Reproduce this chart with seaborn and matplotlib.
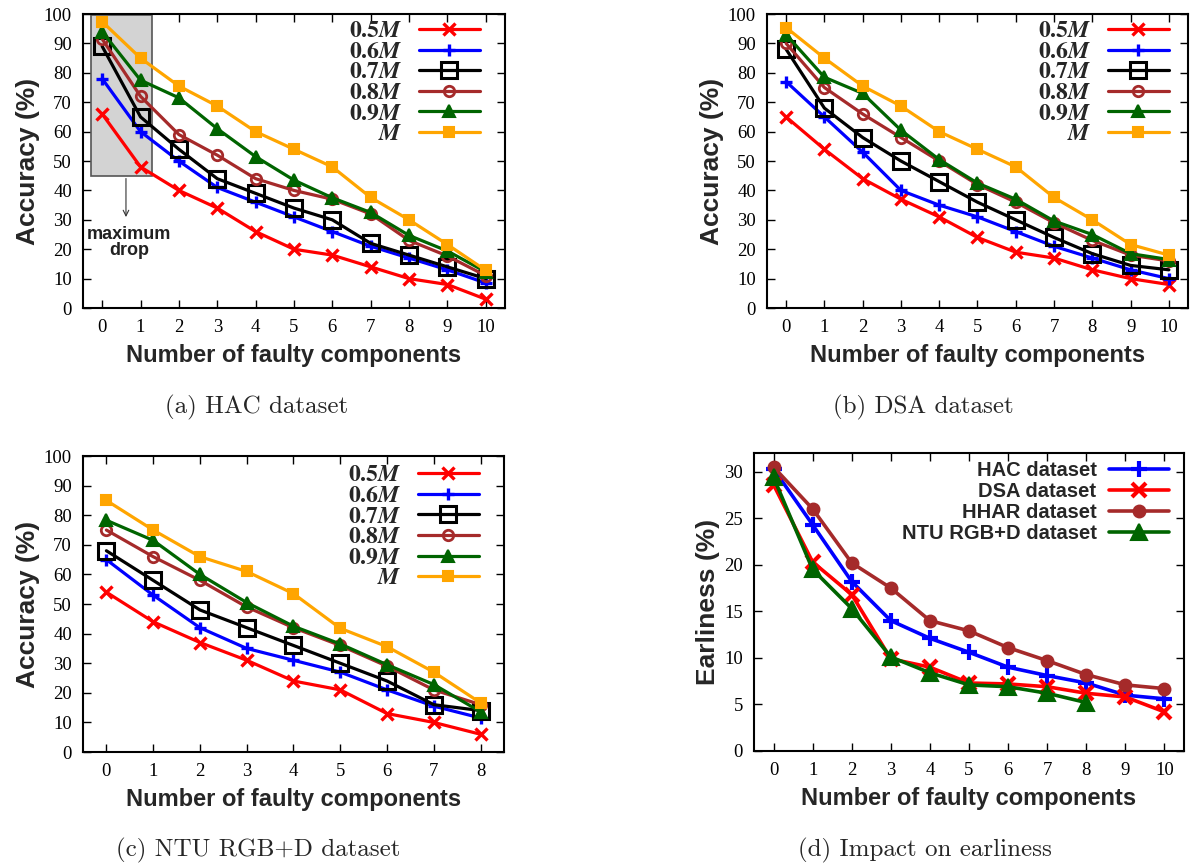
import numpy as np
import pandas as pd
import matplotlib
matplotlib.use("Agg")
import matplotlib.pyplot as plt
from matplotlib.patches import Rectangle
import seaborn as sns

# ---- data ----
faults10 = list(range(11))
faults8 = list(range(9))

# (a) HAC dataset accuracy
hac_05 = [66, 48, 40, 34, 26, 20, 18, 14, 10, 8, 3]
hac_06 = [78, 60, 50, 41, 36, 31, 26, 21, 17, 13, 8.5]
hac_07 = [89, 65, 54, 44, 39, 34, 30, 22, 18, 14, 10]
hac_08 = [91.5, 72, 59, 52, 44, 40, 37, 32, 23, 17.7, 11]
hac_09 = [94, 77.5, 71.5, 61, 51.5, 43.5, 37.5, 32.5, 24.7, 19.4, 12.3]
hac_M = [97.4, 85, 75.5, 68.7, 60, 54, 48, 37.6, 30, 21.6, 12.8]

# (b) DSA dataset accuracy
dsa_05 = [65, 54, 44, 37, 31, 24, 19, 17, 13, 10, 8]
dsa_06 = [77, 65, 53, 40, 35, 31, 26, 21, 17, 13, 10]
dsa_07 = [88, 68, 58, 50, 43, 36, 30, 24, 18.5, 14.5, 13]
dsa_08 = [90, 75, 66, 58, 50, 42, 36, 29, 23, 18, 16]
dsa_09 = [93, 78.5, 73, 60.5, 50.5, 42.5, 37, 29.6, 25, 18.5, 16.5]
dsa_M = [95.4, 85, 75.5, 68.7, 60, 54, 48, 37.6, 30, 21.6, 18]

# (c) NTU RGB+D dataset accuracy
ntu_05 = [54, 44, 37, 31, 24, 21, 13, 10, 6]
ntu_06 = [65, 53, 42, 35, 31, 27, 21, 15.5, 11.5]
ntu_07 = [68, 58, 48, 42, 36, 30, 24, 16, 14]
ntu_08 = [75, 66, 58, 49, 42, 36, 29, 21, 16]
ntu_09 = [78.3, 71.5, 60, 50.5, 42.5, 36.5, 29.5, 22.8, 13.6]
ntu_M = [85, 75, 66, 61, 53.5, 41.8, 35.6, 27, 16.6]

# (d) earliness
earl_hac = [30.3, 24.3, 18.2, 14, 12.1, 10.6, 9.0, 8.1, 7.3, 6.0, 5.6]
earl_dsa = [28.6, 20.3, 16.8, 9.9, 9.0, 7.3, 7.2, 6.9, 6.2, 5.8, 4.2]
earl_hhar = [30.5, 26, 20.2, 17.5, 14, 12.9, 11.1, 9.7, 8.2, 7.1, 6.7]
earl_ntu = [29.4, 19.5, 15.3, 10.1, 8.4, 7.1, 6.9, 6.2, 5.2]

budget_labels = [r"$\mathbf{0.5}\mathbfit{M}$", r"$\mathbf{0.6}\mathbfit{M}$",
                 r"$\mathbf{0.7}\mathbfit{M}$", r"$\mathbf{0.8}\mathbfit{M}$",
                 r"$\mathbf{0.9}\mathbfit{M}$", r"$\mathbfit{M}$"]
dataset_labels = ["HAC dataset", "DSA dataset", "HHAR dataset", "NTU RGB+D dataset"]
captions = ["(a) HAC dataset", "(b) DSA dataset", "(c) NTU RGB+D dataset",
            "(d) Impact on earliness"]

sns.set_style("ticks")
plt.rcParams["font.family"] = ["Liberation Serif", "DejaVu Serif"]
plt.rcParams["mathtext.fontset"] = "stix"

# style per accuracy series: marker, colour, size, edge width, filled
acc_style = [
    ("x", "#ff0000", 8, 2.4, True),
    ("+", "#0000ff", 8, 2.4, True),
    ("s", "#000000", 11, 2.2, False),
    ("o", "#a52a2a", 7.5, 2.0, False),
    ("^", "#006400", 8.5, 1.5, True),
    ("s", "#ffa500", 7, 1.5, True),
]
earl_style = [
    ("+", "#0000ff", 12, 3.0, True),
    ("x", "#ff0000", 10, 3.0, True),
    ("o", "#a52a2a", 8.5, 1.5, True),
    ("^", "#006400", 11, 1.5, True),
]

fig = plt.figure(figsize=(11.96, 8.66), dpi=100)
ax_a = fig.add_axes([0.0694, 0.6443, 0.3528, 0.3395])
ax_b = fig.add_axes([0.6413, 0.6443, 0.3520, 0.3395])
ax_c = fig.add_axes([0.0694, 0.1316, 0.3520, 0.3418])
ax_d = fig.add_axes([0.6304, 0.1328, 0.3596, 0.3441])


def draw(ax, xs, series, labels, styles):
    for vals, lab, (m, c, ms, mew, filled) in zip(series, labels, styles):
        sns.lineplot(x=xs, y=vals, ax=ax, color=c, linewidth=2.3, marker=m,
                     markersize=ms, markeredgewidth=mew, markeredgecolor=c,
                     markerfacecolor=c if filled else "none", label=lab)


def frame(ax, xmax, ymax, ystep, ylabel):
    ax.set_xlim(-0.5, xmax + 0.5)
    ax.set_ylim(0, ymax)
    ax.set_xticks(range(0, xmax + 1))
    ax.set_yticks(np.arange(0, ymax + 0.1, ystep))
    ax.tick_params(direction="in", length=6, width=1.0, top=True, right=True,
                   labelsize=13.5, pad=8, colors="black")
    for s in ax.spines.values():
        s.set_linewidth(1.5)
        s.set_color("black")
    ax.set_xlabel("Number of faulty components", fontsize=17, fontweight="bold",
                  family="Liberation Sans", labelpad=6)
    ax.set_ylabel(ylabel, fontsize=19, fontweight="bold", family="Liberation Sans",
                  labelpad=3)


acc_panels = [
    (ax_a, faults10, [hac_05, hac_06, hac_07, hac_08, hac_09, hac_M], 0.941, 0.977),
    (ax_b, faults10, [dsa_05, dsa_06, dsa_07, dsa_08, dsa_09, dsa_M], 0.955, 0.977),
    (ax_c, faults8, [ntu_05, ntu_06, ntu_07, ntu_08, ntu_09, ntu_M], 0.941, 0.97),
]
for ax, xs, series, lx, ly in acc_panels:
    draw(ax, xs, series, budget_labels, acc_style)
    frame(ax, xs[-1], 100, 10, "Accuracy (%)")
    ax.legend(loc="upper right", bbox_to_anchor=(lx, ly), frameon=False,
              markerfirst=False, fontsize=17, handlelength=2.6,
              handletextpad=0.7, labelspacing=-0.04, borderpad=0, borderaxespad=0)

# gray "maximum drop" box on HAC panel
ax_a.add_patch(Rectangle((-0.3, 45), 1.6, 54.5, facecolor="#d3d3d3",
                         edgecolor="#555555", linewidth=1.2, zorder=1))
ax_a.annotate("", xy=(0.62, 30), xytext=(0.62, 45),
              arrowprops=dict(arrowstyle="->", lw=0.8, color="#333333"))
ax_a.text(0.71, 22.4, "maximum\ndrop", ha="center", va="center", fontsize=13,
          fontweight="bold", family="Liberation Sans", color="#222222",
          linespacing=0.95)

# earliness panel
xs_list = [faults10, faults10, faults10, faults8]
for xs, vals, lab, (m, c, ms, mew, filled) in zip(
        xs_list, [earl_hac, earl_dsa, earl_hhar, earl_ntu], dataset_labels, earl_style):
    sns.lineplot(x=xs, y=vals, ax=ax_d, color=c, linewidth=2.6, marker=m,
                 markersize=ms, markeredgewidth=mew, markeredgecolor=c,
                 markerfacecolor=c, label=lab)
frame(ax_d, 10, 32, 5, "Earliness (%)")
ax_d.legend(loc="upper right", bbox_to_anchor=(0.965, 0.972), frameon=False,
            markerfirst=False, handlelength=3.0, handletextpad=0.6,
            labelspacing=0.1, borderpad=0, borderaxespad=0,
            prop=dict(family="Liberation Sans", weight="bold", size=14.5))

# sub-captions
cap_pos = [(257, 407), (923, 407), (258, 850), (925, 850)]
for (px, py), cap in zip(cap_pos, captions):
    fig.text(px / 1196, 1 - py / 866, cap, ha="center", va="center", fontsize=18,
             family=["cmr10", "DejaVu Serif"])

fig.savefig("out.png", dpi=100)
